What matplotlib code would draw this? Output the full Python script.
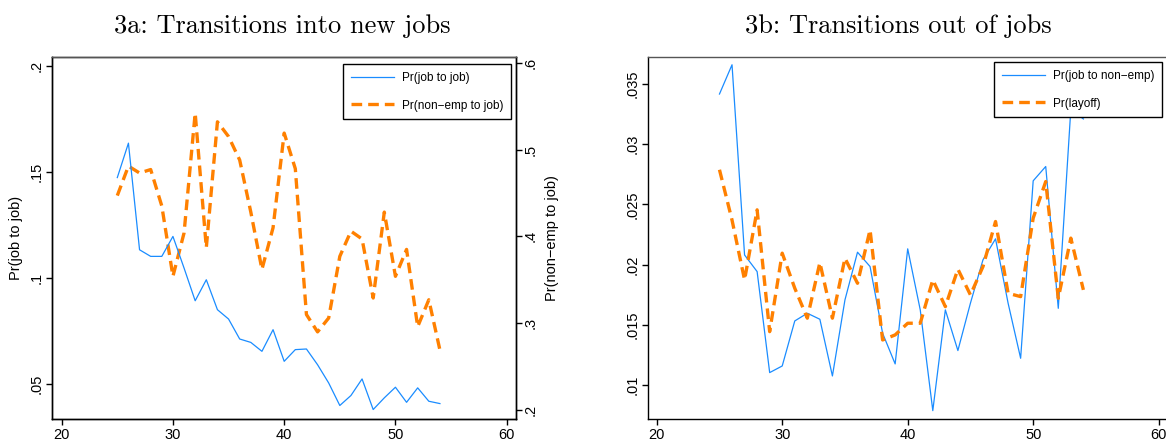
"""Transitions into and out of jobs by age (panels 3a and 3b)."""

import matplotlib

matplotlib.use("Agg")
import matplotlib.pyplot as plt

ages = list(range(25, 55))

# 3a: transitions into new jobs
job_to_job = [
    0.1473, 0.1635, 0.1133, 0.1102, 0.1102, 0.1196, 0.1047, 0.0893, 0.0992, 0.0851,
    0.0807, 0.0713, 0.0697, 0.0655, 0.0757, 0.0608, 0.0663, 0.0666, 0.0592, 0.0506,
    0.0400, 0.0447, 0.0525, 0.0381, 0.0436, 0.0486, 0.0415, 0.0483, 0.0420, 0.0409,
]
nonemp_to_job = [
    0.447, 0.481, 0.473, 0.477, 0.435, 0.354, 0.404, 0.542, 0.387, 0.532,
    0.515, 0.488, 0.428, 0.362, 0.410, 0.519, 0.478, 0.310, 0.290, 0.306,
    0.377, 0.406, 0.397, 0.329, 0.428, 0.354, 0.385, 0.296, 0.327, 0.269,
]

# 3b: transitions out of jobs
job_to_nonemp = [
    0.03417, 0.0366, 0.0208, 0.01942, 0.01103, 0.01158, 0.01532, 0.01596, 0.01546, 0.01075,
    0.01707, 0.02103, 0.01984, 0.0143, 0.01175, 0.02131, 0.01624, 0.00787, 0.01624, 0.01286,
    0.0168, 0.0204, 0.02214, 0.0168, 0.01222, 0.02696, 0.02815, 0.01637, 0.0329, 0.0321,
]
layoff = [
    0.02788, 0.0237, 0.01873, 0.02455, 0.01443, 0.02095, 0.01804, 0.01555, 0.02017, 0.01555,
    0.02053, 0.01845, 0.02289, 0.01374, 0.01416, 0.01513, 0.01513, 0.01873, 0.01651, 0.01962,
    0.01748, 0.01984, 0.02358, 0.01762, 0.01734, 0.02386, 0.0269, 0.0172, 0.0222, 0.0179,
]

x_ticks = [20, 30, 40, 50, 60]
left_ticks = [0.05, 0.1, 0.15, 0.2]
left_labels = [".05", ".1", ".15", ".2"]
right_ticks = [0.2, 0.3, 0.4, 0.5, 0.6]
right_labels = [".2", ".3", ".4", ".5", ".6"]
b_ticks = [0.01, 0.015, 0.02, 0.025, 0.03, 0.035]
b_labels = [".01", ".015", ".02", ".025", ".03", ".035"]

BLUE = "#1a8cff"
ORANGE = "#ff8000"
SANS = ["Liberation Sans", "DejaVu Sans"]
TICK_SIZE = 10.5
TITLE_SIZE = 19

plt.rcParams["font.family"] = SANS
plt.rcParams["axes.linewidth"] = 1.0


def style_axis(ax):
    ax.tick_params(axis="both", direction="out", length=4, width=1, labelsize=TICK_SIZE, pad=2)
    ax.tick_params(axis="y", labelrotation=90)
    for label in ax.get_yticklabels():
        label.set_verticalalignment("center")
    ax.set_xticks(x_ticks)
    ax.set_xticklabels([str(t) for t in x_ticks])


def add_legend(ax, handles, labels, right, top):
    leg = ax.legend(
        handles, labels,
        loc="upper right", bbox_to_anchor=(right, top),
        bbox_transform=ax.figure.transFigure,
        fontsize=8.5, frameon=True, fancybox=False, framealpha=1,
        edgecolor="black", handlelength=3.6, labelspacing=1.35,
        borderpad=0.65, handletextpad=0.7, borderaxespad=0,
    )
    leg.get_frame().set_linewidth(1.0)
    leg.set_zorder(10)
    return leg


fig = plt.figure(figsize=(11.66, 4.4), dpi=100)

# ---- panel 3a
ax1 = fig.add_axes([52 / 1166, 1 - 419.3 / 440, (515.7 - 52) / 1166, (419.3 - 56.7) / 440])
ax1r = ax1.twinx()
l1, = ax1.plot(ages, job_to_job, color=BLUE, linewidth=0.9)
l2, = ax1r.plot(ages, nonemp_to_job, color=ORANGE, linewidth=2.4, linestyle=(0, (3.2, 1.8)))
ax1.set_xlim(19.13, 60.81)
ax1.set_ylim(0.0335, 0.2042)
ax1r.set_ylim(0.1893, 0.607)
ax1.set_yticks(left_ticks)
ax1.set_yticklabels(left_labels)
ax1r.set_yticks(right_ticks)
ax1r.set_yticklabels(right_labels)
style_axis(ax1)
ax1r.tick_params(axis="y", direction="out", length=4, width=1, labelsize=TICK_SIZE, pad=2, labelrotation=90)
for label in ax1r.get_yticklabels():
    label.set_verticalalignment("center")
ax1.set_ylabel("Pr(job to job)", fontsize=10.5, labelpad=5)
ax1r.set_ylabel("Pr(non\u2212emp to job)", fontsize=10.5, rotation=90, labelpad=5)
ax1.spines["top"].set_color("#555555")
ax1.set_zorder(ax1r.get_zorder() + 1)
ax1.patch.set_visible(False)
add_legend(ax1r, [l1, l2], ["Pr(job to job)", "Pr(non\u2212emp to job)"], 511 / 1166, 1 - 64 / 440)
fig.text(282 / 1166, 1 - 32.5 / 440, "3a: Transitions into new jobs",
         ha="center", va="baseline", fontsize=TITLE_SIZE, family="cmr10")

# ---- panel 3b
ax2 = fig.add_axes([647.7 / 1166, 1 - 419.3 / 440, (1167.7 - 647.7) / 1166, (419.3 - 56.7) / 440])
m1, = ax2.plot(ages, job_to_nonemp, color=BLUE, linewidth=0.9)
m2, = ax2.plot(ages, layoff, color=ORANGE, linewidth=2.4, linestyle=(0, (3.2, 1.8)))
ax2.set_xlim(19.28, 60.72)
ax2.set_ylim(0.00715, 0.03727)
ax2.set_yticks(b_ticks)
ax2.set_yticklabels(b_labels)
style_axis(ax2)
ax2.spines["top"].set_color("#555555")
add_legend(ax2, [m1, m2], ["Pr(job to non\u2212emp)", "Pr(layoff)"], 1162 / 1166, 1 - 62 / 440)
fig.text(898 / 1166, 1 - 32.5 / 440, "3b: Transitions out of jobs",
         ha="center", va="baseline", fontsize=TITLE_SIZE, family="cmr10")

fig.savefig("out.png", dpi=100)
